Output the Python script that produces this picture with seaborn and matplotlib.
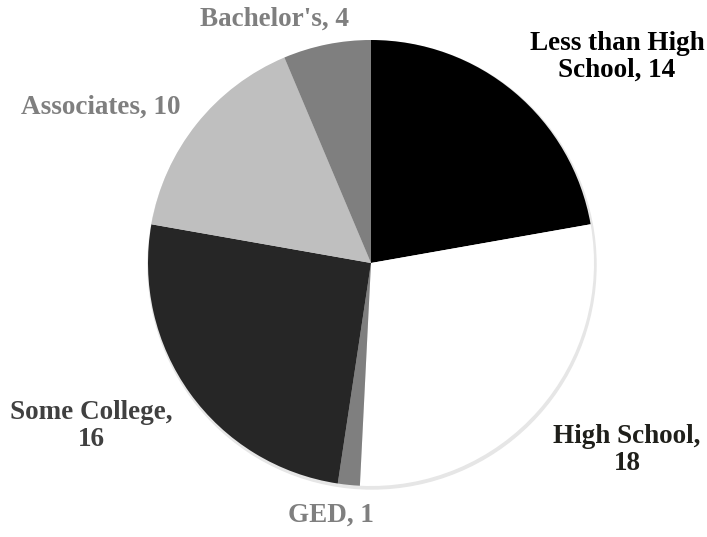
import matplotlib
matplotlib.use("Agg")
import matplotlib.pyplot as plt
import seaborn as sns

sns.set_theme(style="white")
plt.rcParams['font.family'] = ['Liberation Serif', 'DejaVu Serif']

categories = ['Less than High School', 'High School', 'GED', 'Some College', 'Associates', "Bachelor's"]
label_text = ['Less than High\nSchool, 14', 'High School,\n18', 'GED, 1', 'Some College,\n16', 'Associates, 10', "Bachelor's, 4"]
counts = [14, 18, 1, 16, 10, 4]
slice_colors = ['#000000', '#ffffff', '#7f7f7f', '#262626', '#bfbfbf', '#7f7f7f']
text_colors = ['#000000', '#1f1f1a', '#7f7f7f', '#404040', '#7f7f7f', '#7f7f7f']
# label anchor points in pixels (x, y from top)
label_pos = [(617, 57), (627, 450), (331, 515), (91, 426), (101, 107), (275, 19)]

W, H = 707, 537
fig = plt.figure(figsize=(W / 100, H / 100), dpi=100)
ax = fig.add_axes([0, 0, 1, 1])

# soft shadow
shadow = plt.Circle((372, H - 265), 224, color='#e6e6e6', zorder=0)
ax.add_patch(shadow)

ax.pie(counts, colors=slice_colors, startangle=90, counterclock=False,
       center=(371, H - 263), radius=223,
       wedgeprops=dict(linewidth=0, edgecolor='none'))

for txt, col, (px, py) in zip(label_text, text_colors, label_pos):
    ax.text(px, H - py, txt, color=col, ha='center', va='center',
            fontsize=19.5, fontweight='bold', linespacing=1.1)

ax.set_xlim(0, W)
ax.set_ylim(0, H)
ax.set_aspect('equal')
ax.axis('off')

fig.savefig('out.png', dpi=100)
